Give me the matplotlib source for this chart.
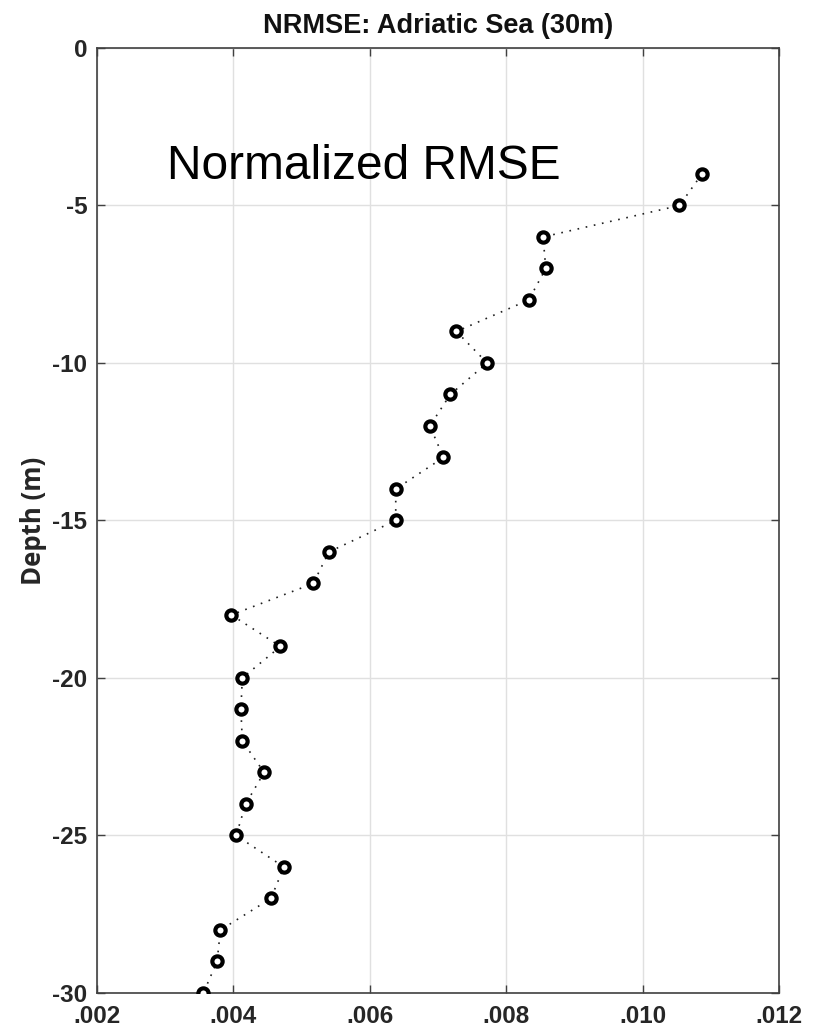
import matplotlib
matplotlib.use("Agg")
import matplotlib.pyplot as plt
from matplotlib.ticker import FixedLocator, FixedFormatter

# Normalized RMSE profile by depth
depth = [-4, -5, -6, -7, -8, -9, -10, -11, -12, -13, -14, -15, -16, -17,
         -18, -19, -20, -21, -22, -23, -24, -25, -26, -27, -28, -29, -30]
nrmse = [0.01087, 0.01054, 0.00854, 0.00858, 0.00833, 0.00727, 0.00772,
         0.00718, 0.00688, 0.00708, 0.00638, 0.00638, 0.00540, 0.00517,
         0.00397, 0.00469, 0.00413, 0.00411, 0.00413, 0.00445, 0.00418,
         0.00404, 0.00474, 0.00455, 0.00381, 0.00376, 0.00356]

x_ticks = [0.002, 0.004, 0.006, 0.008, 0.010, 0.012]
x_tick_labels = [".002", ".004", ".006", ".008", ".010", ".012"]
y_ticks = [-30, -25, -20, -15, -10, -5, 0]
y_tick_labels = ["-30", "-25", "-20", "-15", "-10", "-5", "0"]

title_text = "NRMSE: Adriatic Sea (30m)"
ylabel_text = "Depth (m)"
note_text = "Normalized RMSE"

bold_font = ["Liberation Sans", "DejaVu Sans"]
label_font = ["Open Sans", "Liberation Sans", "DejaVu Sans"]

fig = plt.figure(figsize=(8.25, 10.34), dpi=100)
ax = fig.add_axes([0.1176, 0.0397, 0.8267, 0.9139])

ax.plot(nrmse, depth, linestyle=(0, (1, 4)), color="#202020", linewidth=1.2,
        marker="o", markersize=7.4, markerfacecolor="white",
        markeredgecolor="black", markeredgewidth=3.0, zorder=3)

ax.set_xlim(x_ticks[0], x_ticks[-1])
ax.set_ylim(y_ticks[0], y_ticks[-1])

ax.xaxis.set_major_locator(FixedLocator(x_ticks))
ax.xaxis.set_major_formatter(FixedFormatter(x_tick_labels))
ax.yaxis.set_major_locator(FixedLocator(y_ticks))
ax.yaxis.set_major_formatter(FixedFormatter(y_tick_labels))

ax.grid(True, color="#e0e0e0", linewidth=1.0, zorder=0)
ax.set_axisbelow(True)

ax.tick_params(direction="in", length=6, width=1.0, color="#404040",
               top=True, right=True)
ax.tick_params(axis="x", pad=9)
ax.tick_params(axis="y", pad=7)
for lab in ax.get_xticklabels() + ax.get_yticklabels():
    lab.set_fontfamily(bold_font)
    lab.set_fontweight("bold")
    lab.set_fontsize(17.5)
    lab.set_color("#262626")

for sp in ax.spines.values():
    sp.set_color("#404040")
    sp.set_linewidth(1.2)

ax.set_title(title_text, fontfamily=bold_font, fontweight="bold",
             fontsize=19.5, pad=11, color="#111111")
ax.set_ylabel(ylabel_text, fontfamily=label_font, fontweight="bold",
              fontsize=18.5, labelpad=4, color="#262626")

ax.text(0.00303, -4.16, note_text, fontfamily=bold_font, fontsize=34.5,
        ha="left", va="baseline", color="black")

fig.savefig("out.png", dpi=100)
